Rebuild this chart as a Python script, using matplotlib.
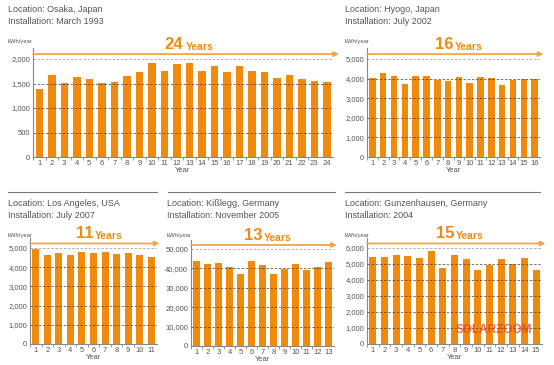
import matplotlib
matplotlib.use('Agg')
import matplotlib.pyplot as plt
from matplotlib.ticker import FuncFormatter

plt.rcParams['font.family'] = ['Liberation Sans', 'DejaVu Sans']

# values (kWh/year)
osaka = [1380, 1680, 1505, 1630, 1590, 1520, 1525, 1645, 1725, 1915,
         1745, 1905, 1915, 1760, 1855, 1725, 1855, 1745, 1735, 1620,
         1670, 1585, 1555, 1540]
hyogo = [4025, 4310, 4110, 3750, 4145, 4145, 3905, 3855, 4060, 3785,
         4075, 4040, 3685, 3905, 3975, 4005]
la = [4965, 4655, 4720, 4635, 4775, 4740, 4775, 4705, 4740, 4635, 4550]
kisslegg = [43800, 42250, 42750, 40500, 37100, 43800, 41550, 37100,
            39500, 42400, 39300, 40500, 43450]
gunz = [5440, 5440, 5540, 5500, 5375, 5790, 4750, 5580, 5330, 4650,
        4920, 5330, 4980, 5375, 4650]

locations = ['Osaka, Japan', 'Hyogo, Japan', 'Los Angeles, USA',
             'Kißlegg, Germany', 'Gunzenhausen, Germany']
installs = ['March 1993', 'July 2002', 'July 2007', 'November 2005', '2004']
series = [osaka, hyogo, la, kisslegg, gunz]
top_ticks = [2000, 5000, 5000, 50000, 6000]
tick_step = [500, 1000, 1000, 10000, 1000]

W, H = 554, 365
ORANGE = '#EF8A0C'
ARROW = '#F2A54A'
TXT = '#555555'

# panel boxes in pixels: left, right, y of zero, y of top tick, y of axes top, text x, text y
panels = [
    (33, 333, 157, 59, 48, 8, 10),
    (367, 540, 157, 59, 48, 345, 10),
    (30, 157, 344, 248, 238, 8, 203),
    (191, 334, 346, 249, 240, 167, 203),
    (367, 542, 344, 248, 238, 345, 203),
]

fig = plt.figure(figsize=(W / 100, H / 100), dpi=100)

for i, vals in enumerate(series):
    x0, x1, y0, yt, ytop, tx, ty = panels[i]
    ax = fig.add_axes([x0 / W, (H - y0) / H, (x1 - x0) / W, (y0 - ytop) / H])
    n = len(vals)
    years = list(range(1, n + 1))
    ymax = top_ticks[i] * (y0 - ytop) / (y0 - yt)
    ax.bar(years, vals, width=0.6, color=ORANGE, zorder=2)
    ax.set_xlim(0.5, n + 0.5)
    ax.set_ylim(0, ymax)
    ticks = list(range(0, top_ticks[i] + 1, tick_step[i]))
    ax.set_yticks(ticks)
    ax.yaxis.set_major_formatter(FuncFormatter(lambda v, p: f'{int(v):,}'))
    ax.set_xticks(years)
    ax.set_xticks([k + 0.5 for k in range(n - 1)], minor=True)
    ax.tick_params(axis='x', which='major', length=0, labelsize=5.5, colors=TXT, pad=2)
    ax.tick_params(axis='x', which='minor', length=2.5, width=0.6, color='#888888')
    ax.tick_params(axis='y', length=0, labelsize=5.5, colors=TXT, pad=2)
    for t in ticks[1:]:
        c = '#999999' if t == ticks[-1] else '#5a4a3a'
        ax.axhline(t, color=c, lw=0.6, ls=(0, (3, 2)), zorder=3, alpha=0.9)
    for s in ['top', 'right']:
        ax.spines[s].set_visible(False)
    for s in ['left', 'bottom']:
        ax.spines[s].set_color('#888888')
        ax.spines[s].set_linewidth(0.8)
    ax.set_xlabel('Year', fontsize=5.5, color=TXT, labelpad=0)

    # arrow spanning the years
    ay = (y0 - yt + (yt - ytop) * 0.45) / (y0 - ytop)
    ax.annotate('', xy=(1.02, ay), xytext=(0, ay), xycoords='axes fraction',
                arrowprops=dict(arrowstyle='-|>', color=ARROW, lw=1.3,
                                mutation_scale=7, shrinkA=0, shrinkB=0),
                annotation_clip=False)
    ax.text(0.5, ay + 0.02, str(n), transform=ax.transAxes, ha='right', va='bottom',
            fontsize=12, fontweight='bold', color=ORANGE)
    ax.text(0.51, ay + 0.02, 'Years', transform=ax.transAxes, ha='left', va='bottom',
            fontsize=7.5, fontweight='bold', color=ORANGE)

    fig.text(tx / W, 1 - ty / H, 'Location: ' + locations[i], fontsize=6.5,
             color=TXT, va='center')
    fig.text(tx / W, 1 - (ty + 12) / H, 'Installation: ' + installs[i], fontsize=6.5,
             color=TXT, va='center')
    fig.text(tx / W, 1 - (ty + 32) / H, 'kWh/year', fontsize=4.2, color=TXT, va='center')

# separator lines above the bottom row
for a, b in [(8, 157), (168, 335), (345, 540)]:
    fig.add_artist(plt.Line2D([a / W, b / W], [1 - 192 / H, 1 - 192 / H],
                              color='#777777', lw=0.8))

fig.text(494 / W, 1 - 330 / H, 'SOLARZOOM', fontsize=8.5, fontweight='bold',
         color='#E8461E', alpha=0.8, ha='center', va='center')

fig.savefig('out.png', dpi=100, facecolor='white')
